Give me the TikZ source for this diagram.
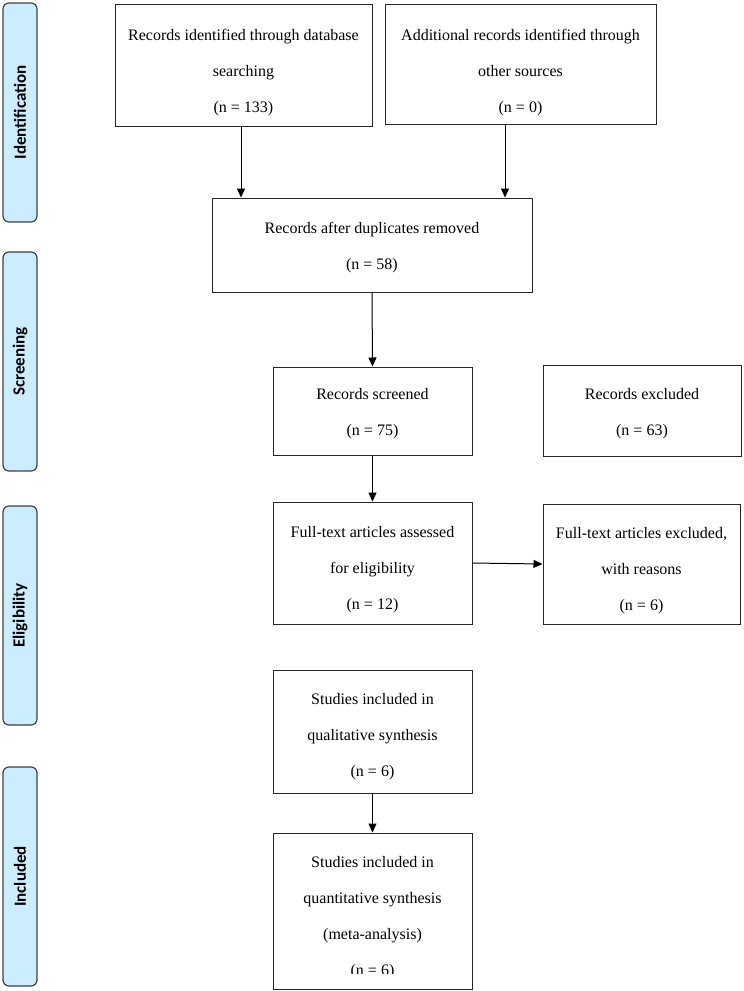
\documentclass[tikz,border=0pt]{standalone}
\usepackage{fontspec}
\setmainfont{Liberation Serif}
\newfontfamily\sidefont{Carlito}
\usetikzlibrary{arrows.meta}
\definecolor{barfill}{RGB}{204,236,255}
\definecolor{barline}{RGB}{64,64,64}
\begin{document}
\begin{tikzpicture}[x=1pt,y=-1pt,
  box/.style={draw=black!85, line width=1pt, rectangle, inner sep=0pt},
  txt/.style={align=center, font=\fontsize{16}{36}\selectfont, inner sep=0pt},
  bar/.style={draw=barline, fill=barfill, line width=1.2pt, rounded corners=6pt, minimum width=34pt, minimum height=219pt, inner sep=0pt},
  bartxt/.style={rotate=90, inner sep=0pt, font=\sidefont\bfseries\fontsize{17}{20}\selectfont},
  arr/.style={-{Triangle[length=9pt,width=8pt]}, line width=1pt, draw=black}]
\useasboundingbox (0,0) rectangle (744,991);

% side bars
\node[bar] (s1) at (20,112.5) {};
\node[bartxt] (s1t) at (s1.center) {Identification};
\node[bar] (s2) at (20,361.5) {};
\node[bartxt] (s2t) at (s2.center) {Screening};
\node[bar] (s3) at (20,615.5) {};
\node[bartxt] (s3t) at (s3.center) {Eligibility};
\node[bar] (s4) at (20,876.5) {};
\node[bartxt] (s4t) at (s4.center) {Included};

% boxes
\node[box, minimum width=257pt, minimum height=122pt] (b1) at (243.5,65) {};
\node[txt] (t1) at ([yshift=-7.75pt]b1.center) {Records identified through database\\searching\\(n = 133)};

\node[box, minimum width=271pt, minimum height=120pt] (b2) at (520.5,64) {};
\node[txt] (t2) at ([yshift=-8.5pt]b2.center) {Additional records identified through\\other sources\\(n = 0)};

\node[box, minimum width=320pt, minimum height=94pt] (b3) at (372,245) {};
\node[txt] (t3) at ([yshift=-2.5pt]b3.center) {Records after duplicates removed\\(n = 58)};

\node[box, minimum width=199pt, minimum height=88pt] (b4) at (372.5,411) {};
\node[txt] (t4) at ([yshift=-3pt]b4.center) {Records screened\\(n = 75)};

\node[box, minimum width=198pt, minimum height=91pt] (b5) at (642,410.5) {};
\node[txt] (t5) at ([yshift=-3pt]b5.center) {Records excluded\\(n = 63)};

\node[box, minimum width=199pt, minimum height=122pt] (b6) at (372.5,563) {};
\node[txt] (t6) at ([yshift=-6.4pt]b6.center) {Full-text articles assessed\\for eligibility\\(n = 12)};

\node[box, minimum width=197pt, minimum height=120pt] (b7) at (641.5,564) {};
\node[txt] (t7) at ([yshift=-7pt]b7.center) {Full-text articles excluded,\\with reasons\\(n = 6)};

\node[box, minimum width=199pt, minimum height=123pt] (b8) at (372.5,731.5) {};
\node[txt] (t8) at ([yshift=-5.4pt]b8.center) {Studies included in\\qualitative synthesis\\(n = 6)};

\node[box, minimum width=199pt, minimum height=156pt] (b9) at (372.5,911) {};
\begin{scope}
\clip (273,833) rectangle (472,973);
\node[txt] (t9) at ([yshift=-7pt]b9.center) {Studies included in\\quantitative synthesis\\(meta-analysis)\\(n = 6)};
\end{scope}

% arrows
\draw[arr] ([xshift=-2.5pt]b1.south) -- ([xshift=-2.5pt]b1.south |- b3.north);
\draw[arr] ([xshift=-15.5pt]b2.south) -- ([xshift=-15.5pt]b2.south |- b3.north);
\draw[arr] (b3.south) -- (b4.north);
\draw[arr] (b4.south) -- (b6.north);
\draw[arr] (b6.east) -- (b7.west);
\draw[arr] (b8.south) -- (b9.north);
\end{tikzpicture}
\end{document}
